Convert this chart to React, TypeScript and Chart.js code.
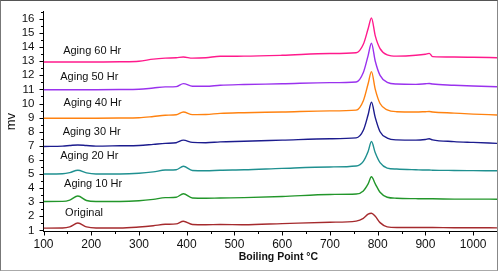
import React, { useEffect, useRef } from "react";
import { Chart, registerables } from "chart.js";
Chart.register(...registerables);

const xValues = [100, 140, 155, 172, 190, 210, 260, 300, 330, 355, 378, 393, 412, 440, 470, 520, 600, 700, 755, 770, 780, 787, 795, 805, 820, 840, 880, 900, 908, 915, 960, 1000, 1050];

const original = [1.16, 1.17, 1.25, 1.52, 1.25, 1.17, 1.17, 1.24, 1.33, 1.43, 1.46, 1.65, 1.42, 1.4, 1.42, 1.4, 1.48, 1.58, 1.66, 1.85, 2.15, 2.22, 2.0, 1.55, 1.25, 1.2, 1.2, 1.2, 1.2, 1.2, 1.19, 1.19, 1.18];
const aging10 = [3.05, 3.06, 3.15, 3.44, 3.12, 3.05, 3.05, 3.1, 3.2, 3.32, 3.35, 3.6, 3.3, 3.28, 3.3, 3.32, 3.4, 3.55, 3.58, 3.8, 4.3, 4.8, 4.3, 3.7, 3.35, 3.28, 3.25, 3.24, 3.24, 3.24, 3.22, 3.22, 3.21];
const aging20 = [5.0, 5.02, 5.1, 5.27, 5.08, 5.0, 5.0, 5.05, 5.15, 5.28, 5.3, 5.55, 5.25, 5.23, 5.27, 5.3, 5.4, 5.5, 5.57, 5.9, 6.6, 7.3, 6.5, 5.8, 5.42, 5.35, 5.3, 5.28, 5.28, 5.27, 5.25, 5.24, 5.23];
const aging30 = [6.95, 6.98, 7.02, 7.06, 7.02, 6.98, 7.0, 7.02, 7.1, 7.17, 7.22, 7.4, 7.24, 7.22, 7.28, 7.32, 7.4, 7.5, 7.56, 8.1, 9.2, 10.1, 9.0, 8.0, 7.55, 7.42, 7.4, 7.45, 7.5, 7.42, 7.3, 7.24, 7.17];
const aging40 = [8.96, 8.96, 8.96, 8.96, 8.96, 8.96, 8.97, 8.99, 9.08, 9.17, 9.2, 9.4, 9.21, 9.22, 9.3, 9.35, 9.4, 9.48, 9.53, 10.2, 11.4, 12.26, 11.0, 10.0, 9.55, 9.42, 9.4, 9.42, 9.43, 9.4, 9.32, 9.25, 9.19];
const aging50 = [10.98, 10.98, 10.98, 10.98, 10.98, 10.98, 10.99, 11.01, 11.1, 11.18, 11.2, 11.41, 11.23, 11.22, 11.3, 11.35, 11.4, 11.48, 11.53, 12.2, 13.4, 14.28, 13.0, 12.0, 11.5, 11.38, 11.36, 11.4, 11.42, 11.38, 11.3, 11.24, 11.19];
const aging60 = [12.95, 12.95, 12.95, 12.95, 12.95, 12.95, 12.96, 13.0, 13.15, 13.22, 13.25, 13.3, 13.22, 13.25, 13.35, 13.36, 13.42, 13.55, 13.6, 14.2, 15.3, 16.07, 14.8, 13.9, 13.45, 13.36, 13.42, 13.5, 13.56, 13.33, 13.3, 13.28, 13.25];

const seriesNames = ["Original", "Aging 10 Hr", "Aging 20 Hr", "Aging 30 Hr", "Aging 40 Hr", "Aging 50 Hr", "Aging 60 Hr"];
const seriesValues = [original, aging10, aging20, aging30, aging40, aging50, aging60];
const seriesColors = ["#a52a2d", "#22962a", "#1f9090", "#1c1c8e", "#ff8210", "#9a32ee", "#ff1a8c"];

// label anchor positions in data coordinates
const labelX = [185, 204, 196, 201, 203, 196, 202];
const labelY = [2.22, 4.26, 6.3, 7.98, 10.04, 11.87, 13.75];

const xTitle = "Boiling Point \u00B0C";
const yTitle = "mv";

const decorPlugin = {
  id: "decor",
  afterDraw(chart: any) {
    const ctx = chart.ctx;
    const xs = chart.scales.x;
    const ys = chart.scales.y;
    ctx.save();
    ctx.strokeStyle = "#000";
    ctx.lineWidth = 1;
    ctx.beginPath();
    for (let v = 1; v <= 16.5; v += 0.5) {
      const py = Math.round(ys.getPixelForValue(v)) + 0.5;
      const len = v % 1 === 0 ? 4 : 2.5;
      ctx.moveTo(ys.right - len, py);
      ctx.lineTo(ys.right, py);
    }
    for (let v = 100; v <= 1050; v += 50) {
      const px = Math.round(xs.getPixelForValue(v)) + 0.5;
      const len = v % 100 === 0 ? 4 : 2.5;
      ctx.moveTo(px, xs.top);
      ctx.lineTo(px, xs.top + len);
    }
    ctx.stroke();

    ctx.fillStyle = "#111";
    ctx.font = "11px 'Liberation Sans', Arial, sans-serif";
    ctx.textAlign = "center";
    ctx.textBaseline = "middle";
    for (let i = 0; i < seriesNames.length; i++) {
      ctx.fillText(seriesNames[i], xs.getPixelForValue(labelX[i]), ys.getPixelForValue(labelY[i]));
    }

    ctx.font = "bold 10.5px 'Liberation Sans', Arial, sans-serif";
    const ca = chart.chartArea;
    ctx.fillText(xTitle, ca.left + (ca.right - ca.left) * 0.518, 257);
    ctx.restore();
  },
};

export default function App() {
  const ref = useRef<HTMLCanvasElement>(null);
  useEffect(() => {
    if (!ref.current) return;
    const chart = new Chart(ref.current, {
      type: "line",
      data: {
        datasets: seriesNames.map((name, i) => ({
          label: name,
          data: xValues.map((x, j) => ({ x, y: seriesValues[i][j] })),
          borderColor: seriesColors[i],
          backgroundColor: seriesColors[i],
          borderWidth: 1.4,
          pointRadius: 0,
          cubicInterpolationMode: "monotone" as const,
          fill: false,
        })),
      },
      options: {
        animation: false,
        responsive: false,
        events: [],
        layout: { padding: { left: 0, top: 5, right: 3, bottom: 0 } },
        plugins: { legend: { display: false }, tooltip: { enabled: false } },
        scales: {
          x: {
            type: "linear",
            min: 100,
            max: 1050,
            afterFit: (s: any) => {
              s.height = 39.5;
            },
            grid: { display: false, drawTicks: true, tickLength: 4 },
            border: { display: true, color: "#000", width: 1 },
            ticks: {
              stepSize: 100,
              includeBounds: false,
              autoSkip: false,
              maxRotation: 0,
              padding: 2,
              color: "#111",
              font: { family: "'Liberation Sans', Arial, sans-serif", size: 12 },
              callback: (v: any) => String(v),
            },
          },
          y: {
            type: "linear",
            min: 0.92,
            max: 16.5,
            afterFit: (s: any) => {
              s.width = 43.5;
            },
            grid: { display: false, drawTicks: true, tickLength: 4 },
            border: { display: true, color: "#000", width: 1 },
            title: {
              display: true,
              text: yTitle,
              color: "#111",
              padding: { top: 4, bottom: 0 },
              font: { family: "'Liberation Sans', Arial, sans-serif", size: 13 },
            },
            ticks: {
              stepSize: 1,
              includeBounds: false,
              autoSkip: false,
              padding: 5,
              color: "#111",
              font: { family: "'Liberation Sans', Arial, sans-serif", size: 11.5 },
              callback: (v: any) => String(v),
            },
          },
        },
      },
      plugins: [decorPlugin],
    });
    return () => chart.destroy();
  }, []);

  return (
    <div style={{ position: "fixed", left: 0, top: 0, width: 500, height: 271, background: "#fff" }}>
      <canvas ref={ref} width={500} height={271} style={{ position: "absolute", left: 0, top: 0 }} />
      <div
        style={{
          position: "absolute",
          left: 0,
          top: 0,
          width: 498,
          height: 271,
          boxSizing: "border-box",
          borderTop: "1px solid #555",
          borderLeft: "1px solid #777",
          borderBottom: "1px solid #aaa",
          borderRight: "1px solid #888",
          pointerEvents: "none",
        }}
      />
    </div>
  );
}
